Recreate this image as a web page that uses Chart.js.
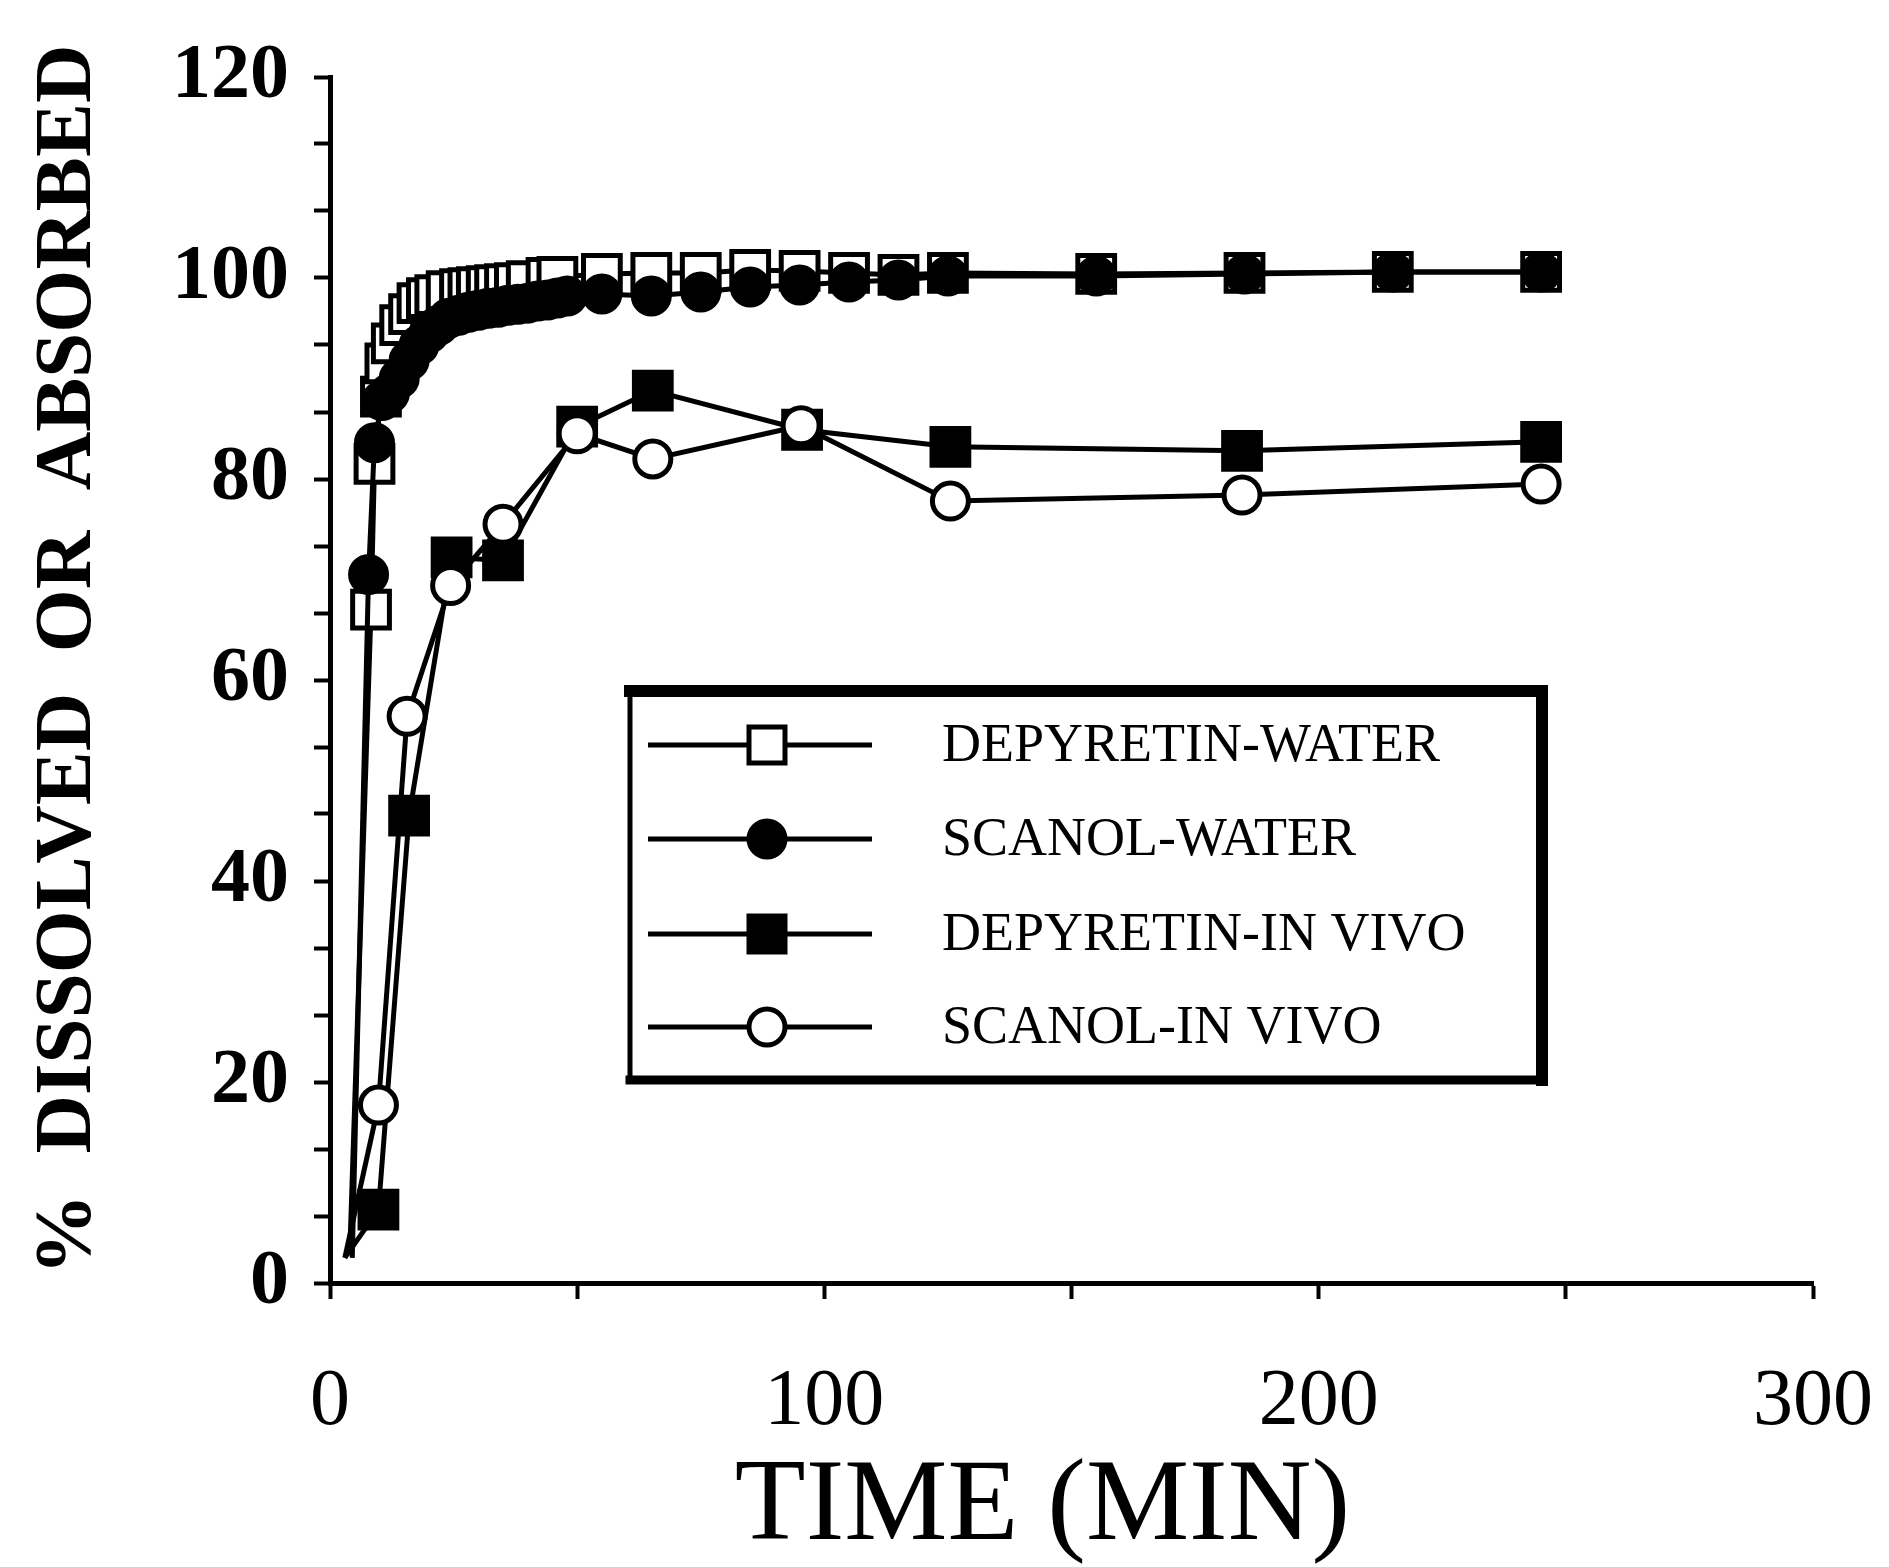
<!DOCTYPE html>
<html>
<head>
<meta charset="utf-8">
<title>% dissolved or absorbed vs time</title>
<script src="https://cdn.jsdelivr.net/npm/chart.js@4.4.0/dist/chart.umd.min.js"></script>
<style>
  html, body { margin: 0; padding: 0; background: #fff; }
  #chart { display: block; }
</style>
</head>
<body>
<canvas id="chart" width="1889" height="1567"></canvas>
<script>
// values (time in min, % dissolved or absorbed)
const depWaterTime = [4, 8.3, 9, 10.3, 11.2, 12.5, 14.2, 16, 17.7, 19.6, 21.3, 23.6, 26.3, 28, 29.7, 31.7, 33.4, 35.4, 37.4, 39.8, 43.8, 46, 55, 65, 75, 85, 95, 105, 115, 125, 155, 185, 215, 245];
const depWaterPct = [3, 67, 81.5, 88.2, 91.5, 93.5, 95.3, 96.4, 97.5, 98, 98.3, 98.7, 98.9, 99, 99.1, 99.2, 99.3, 99.4, 99.5, 99.7, 100, 100.1, 100.4, 100.5, 100.5, 100.8, 100.7, 100.5, 100.3, 100.5, 100.4, 100.5, 100.6, 100.6];

const scanWaterTime = [4.5, 7.8, 9, 10.5, 12, 14, 16, 18, 20, 22, 24, 26, 28, 30, 32, 34, 36, 38, 40, 42, 44, 46, 48, 55, 65, 75, 85, 95, 105, 115, 125, 155, 185, 215, 245];
const scanWaterPct = [2.5, 70.5, 83.6, 87.8, 88.5, 90, 91.8, 93.3, 94.5, 95.3, 96, 96.3, 96.6, 96.8, 97, 97.1, 97.3, 97.4, 97.5, 97.7, 97.8, 98, 98.2, 98.4, 98.2, 98.6, 99.1, 99.3, 99.6, 99.8, 100.2, 100.2, 100.4, 100.6, 100.6];

const depVivoTime = [3, 9.8, 16, 24.6, 35, 50, 65.3, 95.5, 125.5, 184.5, 245];
const depVivoPct = [2.5, 7.3, 46.5, 72.2, 71.9, 85.2, 88.8, 84.9, 83.2, 82.8, 83.7];

const scanVivoTime = [3, 9.8, 15.6, 24.4, 35, 50, 65.3, 95.3, 125.5, 184.5, 245];
const scanVivoPct = [2.5, 17.7, 56.4, 69.4, 75.5, 84.5, 82, 85.3, 77.8, 78.4, 79.5];

const seriesNames = ['DEPYRETIN-WATER', 'SCANOL-WATER', 'DEPYRETIN-IN VIVO', 'SCANOL-IN VIVO'];
const xTickLabels = [0, 100, 200, 300];
const yTickLabels = [0, 20, 40, 60, 80, 100, 120];

const serif = '"Liberation Serif", "Times New Roman", serif';

function toPoints(xs, ys) {
    return xs.map((x, i) => ({ x: x, y: ys[i] }));
}

// first point of each curve has no visible symbol
function markerSize(size) {
    return (ctx) => ctx.dataIndex === 0 ? 0 : size;
}

function makeSeries(label, xs, ys, shape, fill, order) {
    return {
        label: label,
        data: toPoints(xs, ys),
        borderColor: '#000',
        borderWidth: 5,
        tension: 0,
        pointStyle: shape,
        pointRadius: markerSize(shape === 'rect' ? 26 : 18),
        pointBackgroundColor: fill,
        pointBorderColor: '#000',
        pointBorderWidth: 5,
        order: order
    };
}

// boxed legend sitting inside the plot, like the original
const legendBox = {
    id: 'legendBox',
    afterDatasetsDraw(chart) {
        const ctx = chart.ctx;
        const area = chart.chartArea;
        const left = area.left + 300;
        const top = area.top + 614;
        const w = 912;
        const h = 389;
        const rows = [54, 148, 243, 336];

        ctx.save();
        ctx.fillStyle = '#fff';
        ctx.fillRect(left, top, w, h);
        ctx.strokeStyle = '#000';
        ctx.lineCap = 'square';

        ctx.lineWidth = 5;
        ctx.beginPath();
        ctx.moveTo(left, top);
        ctx.lineTo(left, top + h);
        ctx.stroke();

        ctx.lineWidth = 12;
        ctx.beginPath();
        ctx.moveTo(left, top);
        ctx.lineTo(left + w, top);
        ctx.lineTo(left + w, top + h);
        ctx.stroke();

        ctx.lineWidth = 9;
        ctx.beginPath();
        ctx.moveTo(left, top + h);
        ctx.lineTo(left + w, top + h);
        ctx.stroke();

        ctx.lineCap = 'butt';
        chart.data.datasets.forEach((ds, i) => {
            const y = top + rows[i];
            ctx.lineWidth = 5;
            ctx.beginPath();
            ctx.moveTo(left + 18, y);
            ctx.lineTo(left + 242, y);
            ctx.stroke();

            const mx = left + 137;
            ctx.fillStyle = ds.pointBackgroundColor;
            ctx.beginPath();
            if (ds.pointStyle === 'rect') {
                ctx.rect(mx - 18, y - 18, 36, 36);
            } else {
                ctx.arc(mx, y, 18, 0, Math.PI * 2);
            }
            ctx.fill();
            ctx.stroke();

            ctx.fillStyle = '#000';
            ctx.font = 'normal 54px ' + serif;
            ctx.textAlign = 'left';
            ctx.textBaseline = 'middle';
            ctx.fillText(ds.label, left + 312, y + 2);
        });
        ctx.restore();
    }
};

new Chart(document.getElementById('chart'), {
    type: 'line',
    data: {
        datasets: [
            makeSeries(seriesNames[0], depWaterTime, depWaterPct, 'rect', '#fff', 4),
            makeSeries(seriesNames[1], scanWaterTime, scanWaterPct, 'circle', '#000', 3),
            makeSeries(seriesNames[2], depVivoTime, depVivoPct, 'rect', '#000', 2),
            makeSeries(seriesNames[3], scanVivoTime, scanVivoPct, 'circle', '#fff', 1)
        ]
    },
    options: {
        responsive: false,
        animation: false,
        devicePixelRatio: 1,
        layout: { padding: { top: 77, right: 76, bottom: 0, left: 0 } },
        plugins: {
            legend: { display: false },
            tooltip: { enabled: false }
        },
        scales: {
            x: {
                type: 'linear',
                min: 0,
                max: 300,
                border: { display: true, color: '#000', width: 5 },
                grid: { drawOnChartArea: false, drawTicks: true, tickLength: 16, tickWidth: 4, tickColor: '#000' },
                ticks: {
                    stepSize: 50,
                    autoSkip: false,
                    maxRotation: 0,
                    // small padding keeps the right edge; tall line height pushes labels down
                    padding: 16,
                    color: '#000',
                    font: { family: serif, size: 80, weight: 'normal', lineHeight: 2.2 },
                    callback: (value) => xTickLabels.includes(value) ? String(value) : ''
                },
                title: {
                    display: true,
                    text: 'TIME (MIN)  ',
                    color: '#000',
                    padding: { top: 0, bottom: 12 },
                    font: { family: serif, size: 116, weight: 'normal', lineHeight: 0.8 }
                },
                afterFit(scale) { scale.height = 284; }
            },
            y: {
                min: 0,
                max: 120,
                border: { display: true, color: '#000', width: 5 },
                grid: { drawOnChartArea: false, drawTicks: true, tickLength: 16, tickWidth: 4, tickColor: '#000' },
                ticks: {
                    stepSize: 20 / 3,
                    autoSkip: false,
                    padding: 25,
                    color: '#000',
                    font: { family: serif, size: 78, weight: 'bold' },
                    callback: (value) => {
                        const r = Math.round(value);
                        return Math.abs(value - r) < 1e-6 && yTickLabels.includes(r) ? String(r) : '';
                    }
                },
                title: {
                    display: true,
                    text: '  %  DISSOLVED  OR  ABSORBED',
                    color: '#000',
                    padding: { top: 20, bottom: 0 },
                    font: { family: serif, size: 81, weight: 'bold' }
                },
                afterFit(scale) { scale.width = 330; }
            }
        }
    },
    plugins: [legendBox]
});
</script>
</body>
</html>
